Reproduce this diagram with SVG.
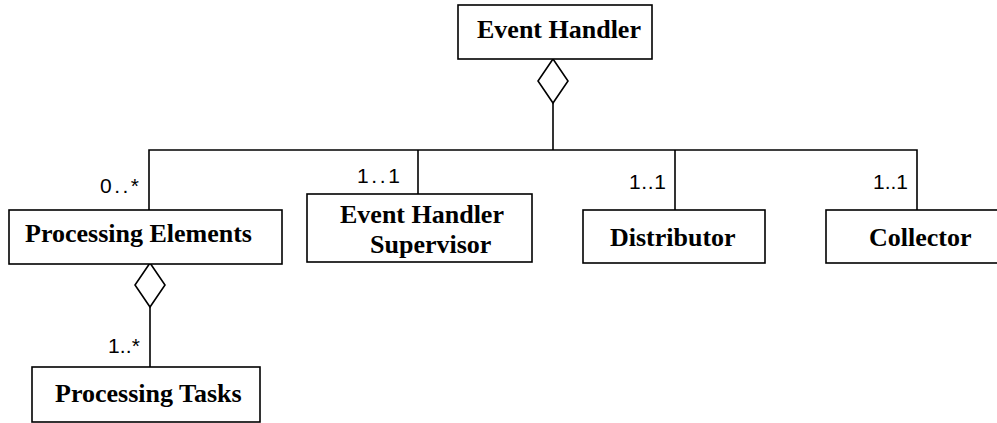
<svg xmlns="http://www.w3.org/2000/svg" width="997" height="423" viewBox="0 0 997 423">
  <style>
    .box { fill: #ffffff; stroke: #000000; stroke-width: 1.6; }
    .name { font-family: "Liberation Serif", "Times New Roman", serif; font-weight: bold; font-size: 26px; fill: #000000; }
    .mult { font-family: "Liberation Sans", Arial, sans-serif; font-size: 21px; fill: #000000; }
    .wire { fill: none; stroke: #000000; stroke-width: 1.6; }
    .agg { fill: #ffffff; stroke: #000000; stroke-width: 1.6; }
  </style>
  <rect width="997" height="423" fill="#ffffff"/>

  <!-- connectors: aggregation trees -->
  <g id="connectors">
    <!-- Event Handler aggregates its four parts -->
    <polygon class="agg" points="553,59 568,81 553,103 538,81"/>
    <line class="wire" x1="553" y1="103" x2="553" y2="150"/>
    <polyline class="wire" points="149,210 149,150 917,150 917,210"/>
    <line class="wire" x1="418" y1="150" x2="418" y2="194"/>
    <line class="wire" x1="675" y1="150" x2="675" y2="210"/>
    <text class="mult" x="100" y="193" textLength="39" lengthAdjust="spacing">0..*</text>
    <text class="mult" x="357" y="183" textLength="43" lengthAdjust="spacing">1..1</text>
    <text class="mult" x="629" y="189" textLength="37" lengthAdjust="spacing">1..1</text>
    <text class="mult" x="873" y="189" textLength="35" lengthAdjust="spacing">1..1</text>
    <!-- Processing Elements aggregates Processing Tasks -->
    <polygon class="agg" points="150,263 165,285 150,307 135,285"/>
    <line class="wire" x1="150" y1="307" x2="150" y2="367"/>
    <text class="mult" x="108" y="353" textLength="32" lengthAdjust="spacing">1..*</text>
  </g>

  <g id="event-handler">
    <rect class="box" x="458" y="5" width="194" height="54"/>
    <text class="name" x="477" y="38">Event Handler</text>
  </g>

  <g id="processing-elements">
    <rect class="box" x="9" y="210" width="273" height="54"/>
    <text class="name" x="25" y="242">Processing Elements</text>
  </g>

  <g id="event-handler-supervisor">
    <rect class="box" x="307" y="194" width="225" height="68"/>
    <text class="name" x="340" y="223">Event Handler</text>
    <text class="name" x="370" y="253">Supervisor</text>
  </g>

  <g id="distributor">
    <rect class="box" x="583" y="210" width="182" height="53"/>
    <text class="name" x="610" y="246">Distributor</text>
  </g>

  <g id="collector">
    <rect class="box" x="826" y="210" width="180" height="53"/>
    <text class="name" x="869" y="246">Collector</text>
  </g>

  <g id="processing-tasks">
    <rect class="box" x="32" y="367" width="228" height="55"/>
    <text class="name" x="55" y="402">Processing Tasks</text>
  </g>
</svg>
